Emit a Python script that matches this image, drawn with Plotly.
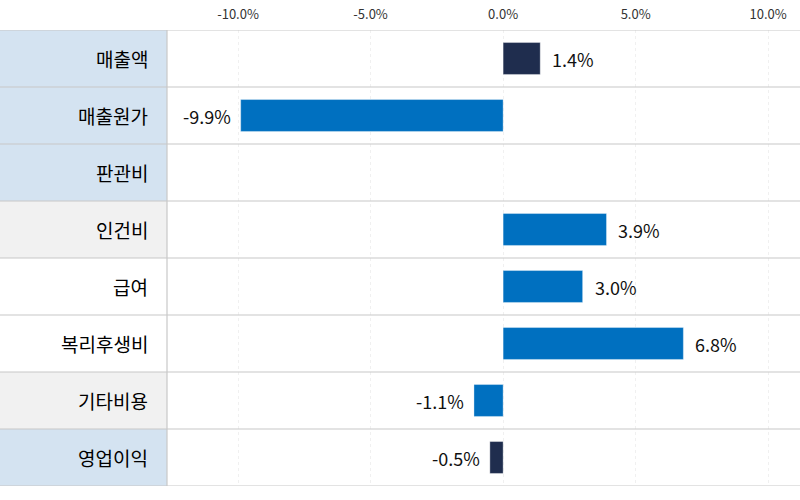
import plotly.graph_objects as go

categories = ["매출액", "매출원가", "판관비", "인건비", "급여", "복리후생비", "기타비용", "영업이익"]
values = [1.4, -9.9, None, 3.9, 3.0, 6.8, -1.1, -0.5]
bar_colors = ["#1f2d4e", "#0070c0", "#0070c0", "#0070c0", "#0070c0", "#0070c0", "#0070c0", "#1f2d4e"]
label_bg = ["#d4e3f1", "#d4e3f1", "#d4e3f1", "#f1f1f1", "#ffffff", "#ffffff", "#f1f1f1", "#d4e3f1"]
tick_vals = [-10, -5, 0, 5, 10]
tick_text = ["-10.0%", "-5.0%", "0.0%", "5.0%", "10.0%"]

FONT = "Noto Sans CJK KR"
L, R, T, B = 167, 0, 30, 14
W, H = 800, 500
plot_w = W - L - R

fig = go.Figure()
fig.add_trace(go.Bar(
    y=list(range(len(categories))),
    x=[v if v is not None else 0 for v in values],
    orientation="h",
    marker=dict(color=bar_colors, line=dict(color="rgba(255,255,255,0.35)", width=1)),
    width=0.56,
    hoverinfo="skip",
))

shapes = []
annotations = []
for i, cat in enumerate(categories):
    shapes.append(dict(type="rect", xref="paper", yref="y",
                       x0=-L / plot_w, x1=0, y0=i - 0.5, y1=i + 0.5,
                       fillcolor=label_bg[i], line=dict(width=0), layer="below"))
    annotations.append(dict(xref="paper", yref="y", x=0, y=i, text=cat,
                            showarrow=False, xanchor="right", xshift=-17,
                            font=dict(family=FONT, size=19, color="#000")))
    v = values[i]
    if v is not None:
        annotations.append(dict(xref="x", yref="y", x=v, y=i, text=f"{v:.1f}%",
                                showarrow=False,
                                xanchor="left" if v >= 0 else "right",
                                xshift=10 if v >= 0 else -8,
                                font=dict(family=FONT, size=18, color="#111")))
for k in range(len(categories) + 1):
    shapes.append(dict(type="line", xref="paper", yref="y",
                       x0=-L / plot_w, x1=1, y0=k - 0.5, y1=k - 0.5,
                       line=dict(color="#c8c8c8", width=1.2), layer="above"))
shapes.append(dict(type="line", xref="paper", yref="paper", x0=0, x1=0, y0=0, y1=1,
                   line=dict(color="#c8c8c8", width=1.2), layer="above"))

fig.update_layout(
    width=W, height=H,
    margin=dict(l=L, r=R, t=T, b=B),
    plot_bgcolor="white", paper_bgcolor="white",
    showlegend=False,
    shapes=shapes, annotations=annotations,
    xaxis=dict(side="top", range=[-12.68, 11.2], tickvals=tick_vals, ticktext=tick_text,
               tickfont=dict(family=FONT, size=13, color="#333"),
               ticklabelstandoff=7,
               showgrid=True, gridcolor="#f0f0f0", griddash="dot", gridwidth=1,
               zeroline=False, showline=False, ticks="", fixedrange=True),
    yaxis=dict(range=[len(categories) - 0.5, -0.5], showticklabels=False,
               showgrid=False, zeroline=False, showline=False, ticks="", fixedrange=True),
)

fig.write_html("out.html", config={"displayModeBar": False},
               post_script="document.body.style.margin='0';")
